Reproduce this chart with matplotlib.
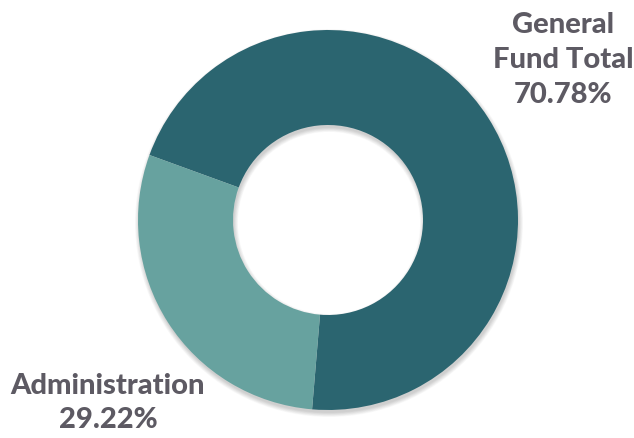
import matplotlib.pyplot as plt
from matplotlib.patches import Wedge

labels = ["General\nFund Total", "Administration"]
shares = [70.78, 29.22]
colors = ["#2b6570", "#67a29f"]

W, H = 634, 438
cx, cy = 328, 438 - 220
R = 190
ring = 95

fig = plt.figure(figsize=(W / 100, H / 100), dpi=100)
ax = fig.add_axes([0, 0, 1, 1])

# soft shadow around the ring edges
for i in range(8):
    ax.add_patch(Wedge((cx + 1, cy - 3), R + 4 - i * 0.6, 0, 360,
                       width=ring + 8 - i * 1.2, facecolor="black",
                       alpha=0.025, linewidth=0))

ax.pie(shares, colors=colors, startangle=160, counterclock=False,
       center=(cx, cy), radius=R, frame=True,
       wedgeprops=dict(width=ring, linewidth=0))
ax.set_xlim(0, W)
ax.set_ylim(0, H)
ax.set_aspect("equal")
ax.axis("off")

txt = dict(fontfamily="Lato", fontweight="black", fontsize=21,
           color="#5d5a63", ha="center", va="center", linespacing=1.42)
ax.text(563, H - 60, f"{labels[0]}\n{shares[0]:.2f}%", **txt)
ax.text(108, H - 403, f"{labels[1]}\n{shares[1]:.2f}%", **txt)

fig.savefig("out.png", dpi=100)
